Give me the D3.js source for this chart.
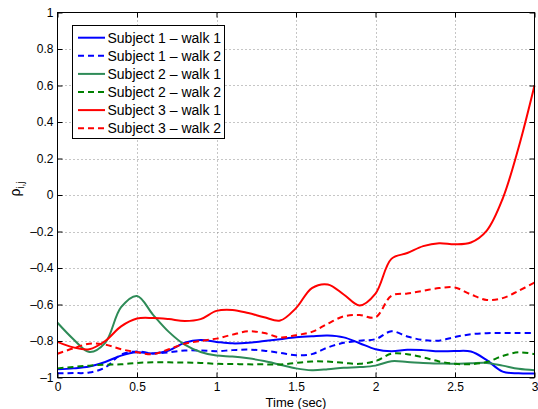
<!DOCTYPE html>
<html>
<head>
<meta charset="utf-8">
<script src="https://cdn.jsdelivr.net/npm/d3@7"></script>
<style>
  body { margin: 0; background: #fff; }
  svg { display: block; font-family: "Liberation Sans", Arial, Helvetica, sans-serif; }
</style>
</head>
<body>
<div id="chart"></div>
<script>
// time samples (sec)
const time = d3.range(0, 31).map(i => i / 10);

const s1w1 = [-0.955, -0.95, -0.94, -0.915, -0.88, -0.862, -0.868, -0.852, -0.81, -0.795,
  -0.805, -0.813, -0.81, -0.80, -0.79, -0.78, -0.774, -0.77, -0.78, -0.812,
  -0.845, -0.856, -0.848, -0.85, -0.856, -0.855, -0.858, -0.905, -0.968, -0.977, -0.978];
const s1w2 = [-0.977, -0.976, -0.973, -0.945, -0.875, -0.857, -0.868, -0.862, -0.852, -0.852,
  -0.856, -0.85, -0.847, -0.853, -0.865, -0.878, -0.872, -0.835, -0.81, -0.798,
  -0.79, -0.747, -0.775, -0.795, -0.798, -0.778, -0.763, -0.757, -0.756, -0.756, -0.756];
const s2w1 = [-0.70, -0.79, -0.86, -0.81, -0.615, -0.553, -0.655, -0.75, -0.82, -0.86,
  -0.88, -0.885, -0.895, -0.91, -0.93, -0.95, -0.96, -0.955, -0.947, -0.943,
  -0.935, -0.911, -0.915, -0.92, -0.923, -0.925, -0.922, -0.92, -0.935, -0.952, -0.96];
const s2w2 = [-0.95, -0.942, -0.935, -0.93, -0.928, -0.92, -0.917, -0.917, -0.918, -0.92,
  -0.925, -0.926, -0.928, -0.928, -0.929, -0.92, -0.912, -0.913, -0.92, -0.925,
  -0.91, -0.87, -0.872, -0.89, -0.912, -0.925, -0.927, -0.915, -0.882, -0.862, -0.872];
const s3w1 = [-0.805, -0.835, -0.845, -0.80, -0.72, -0.677, -0.674, -0.68, -0.69, -0.68,
  -0.635, -0.63, -0.647, -0.67, -0.688, -0.62, -0.51, -0.49, -0.545, -0.605,
  -0.54, -0.35, -0.318, -0.28, -0.264, -0.27, -0.26, -0.195, -0.02, 0.26, 0.60];
const s3w2 = [-0.87, -0.84, -0.815, -0.82, -0.845, -0.862, -0.872, -0.845, -0.815, -0.80,
  -0.787, -0.765, -0.747, -0.756, -0.78, -0.768, -0.75, -0.705, -0.665, -0.658,
  -0.67, -0.552, -0.54, -0.525, -0.51, -0.507, -0.545, -0.575, -0.565, -0.525, -0.48];

const labels = ["Subject 1 \u2013 walk 1", "Subject 1 \u2013 walk 2", "Subject 2 \u2013 walk 1",
  "Subject 2 \u2013 walk 2", "Subject 3 \u2013 walk 1", "Subject 3 \u2013 walk 2"];
const colors = ["#0000ff", "#0000ff", "#2e8b57", "#008000", "#ff0000", "#ff0000"];
const dashed = [false, true, false, true, false, true];
const series = [s1w1, s1w2, s2w1, s2w2, s3w1, s3w2];

const W = 538, H = 409;
const mL = 57.5, mR = 534.5, mT = 12.5, mB = 377.5;

const svg = d3.select("#chart").append("svg")
  .attr("width", W).attr("height", H);

const x = d3.scaleLinear().domain([0, 3]).range([mL, mR]);
const y = d3.scaleLinear().domain([-1, 1]).range([mB, mT]);

const xt = x.ticks(6), yt = y.ticks(10);
const fmt = d => (d === 0 ? "0" : String(+d.toFixed(1))).replace("-", "\u2013");

// grid
const grid = svg.append("g").attr("stroke", "#8c8c8c").attr("stroke-width", 1)
  .attr("stroke-dasharray", "1,3");
grid.selectAll(".gx").data(xt.slice(1, -1)).enter().append("line")
  .attr("x1", d => Math.round(x(d)) + 0.5).attr("x2", d => Math.round(x(d)) + 0.5)
  .attr("y1", mT).attr("y2", mB);
grid.selectAll(".gy").data(yt.slice(1, -1)).enter().append("line")
  .attr("y1", d => Math.round(y(d)) + 0.5).attr("y2", d => Math.round(y(d)) + 0.5)
  .attr("x1", mL).attr("x2", mR);

// lines
const line = d3.line().curve(d3.curveCatmullRom.alpha(0.5))
  .x((d, i) => x(time[i])).y(d => y(d));

const plot = svg.append("g");
series.forEach((s, k) => {
  plot.append("path")
    .attr("d", line(s))
    .attr("fill", "none")
    .attr("stroke", colors[k])
    .attr("stroke-width", 2)
    .attr("stroke-dasharray", dashed[k] ? "6,4" : null);
});

// axes (ticks inward, MATLAB box)
function styleAxis(g) {
  g.select(".domain").remove();
  g.selectAll(".tick line").attr("stroke", "#000");
  g.selectAll("text").attr("fill", "#000").style("font-size", "12px")
    .style("font-family", "'Liberation Sans', Arial, Helvetica, sans-serif");
}
svg.append("g").attr("transform", `translate(0,${mB})`)
  .call(d3.axisBottom(x).tickValues(xt).tickSize(-5).tickPadding(5).tickFormat(fmt))
  .call(styleAxis);
svg.append("g").attr("transform", `translate(0,${mT})`)
  .call(d3.axisTop(x).tickValues(xt).tickSize(-5).tickFormat(""))
  .call(styleAxis);
svg.append("g").attr("transform", `translate(${mL},0)`)
  .call(d3.axisLeft(y).tickValues(yt).tickSize(-5).tickPadding(4).tickFormat(fmt))
  .call(styleAxis);
svg.append("g").attr("transform", `translate(${mR},0)`)
  .call(d3.axisRight(y).tickValues(yt).tickSize(-5).tickFormat(""))
  .call(styleAxis);

svg.append("rect")
  .attr("x", mL).attr("y", mT)
  .attr("width", mR - mL).attr("height", mB - mT)
  .attr("fill", "none").attr("stroke", "#000").attr("stroke-width", 1);

// axis labels
svg.append("text")
  .attr("x", 296).attr("y", 406.5)
  .attr("text-anchor", "middle").style("font-size", "13px")
  .text("Time (sec)");

const yl = svg.append("text")
  .attr("transform", "translate(20,189) rotate(-90)")
  .attr("text-anchor", "middle").style("font-size", "14px");
yl.append("tspan").text("\u03c1");
yl.append("tspan").attr("dy", 4).style("font-size", "10px").text("i,j");

// legend
const lg = svg.append("g");
lg.append("rect")
  .attr("x", 72.5).attr("y", 25.5).attr("width", 152).attr("height", 113)
  .attr("fill", "#fff").attr("stroke", "#000").attr("stroke-width", 1);
labels.forEach((t, k) => {
  const ly = 37.7 + k * 18.1;
  lg.append("line")
    .attr("x1", 78).attr("x2", 105).attr("y1", ly).attr("y2", ly)
    .attr("stroke", colors[k]).attr("stroke-width", 2)
    .attr("stroke-dasharray", dashed[k] ? "6,4" : null);
  lg.append("text")
    .attr("x", 107.5).attr("y", ly).attr("dy", "0.36em")
    .style("font-size", "14px").attr("fill", "#000")
    .text(t);
});
</script>
</body>
</html>
